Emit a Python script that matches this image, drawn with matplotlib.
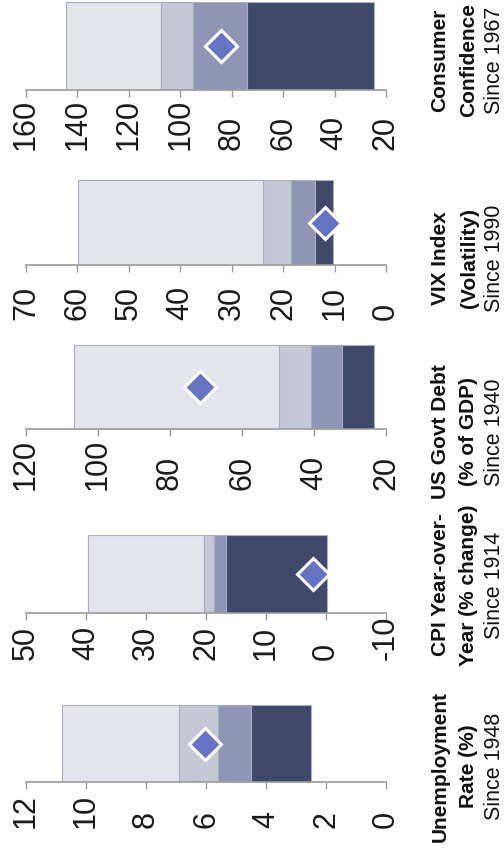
import matplotlib
matplotlib.use("Agg")
import matplotlib.pyplot as plt

plt.rcParams["font.family"] = ["Liberation Sans", "DejaVu Sans"]

# data, original left-to-right order
titles = [("Unemployment", "Rate (%)"),
          ("CPI Year-over-", "Year (% change)"),
          ("US Govt Debt", "(% of GDP)"),
          ("VIX Index", "(Volatility)"),
          ("Consumer", "Confidence")]
since = ["Since 1948", "Since 1914", "Since 1940", "Since 1990", "Since 1967"]

range_max = [10.8, 39.6, 106.6, 59.9, 144.4]
upper = [6.9, 20.4, 49.8, 23.9, 107.4]
middle = [5.6, 18.6, 40.9, 18.5, 94.9]
lower = [4.5, 16.6, 32.3, 13.8, 74.2]
range_min = [2.5, -0.2, 23.3, 10.3, 24.7]
current = [6.05, 2.2, 71.8, 11.8, 84.3]

axis_top = [12, 50, 120, 70, 160]
axis_bottom = [0, -10, 20, 0, 20]
axis_step = [2, 10, 20, 10, 20]

# layout (pixels in the 504x849 picture)
W, H = 504, 849
bar_top_px = [705, 535, 345, 180, 2]
axis_px = [782, 613, 429, 265, 90]
label_gap_px = [46, 47, 61, 55, 60]
title_center_px = [766, 585, 432, 258, 60]

seg_colors = ["#e3e4ec", "#c6c8d5", "#9095b6", "#3f4869"]

fig = plt.figure(figsize=(W / 100, H / 100), dpi=100)

for i in range(5):
    ax = fig.add_axes([26 / W, 1 - axis_px[i] / H, 360 / W,
                       (axis_px[i] - bar_top_px[i]) / H])
    edges = [range_max[i], upper[i], middle[i], lower[i], range_min[i]]
    for k in range(4):
        ax.barh(0.5, edges[k] - edges[k + 1], left=edges[k + 1], height=1.0,
                color=seg_colors[k], edgecolor="#a9adc2", linewidth=0.8)
    ax.plot(current[i], 0.5, marker="D", ms=16, mfc="#6673c2", mec="white",
            mew=2.2, zorder=5, clip_on=False)

    ax.set_xlim(axis_top[i], axis_bottom[i])
    ax.set_ylim(0, 1)
    ticks = list(range(axis_bottom[i], axis_top[i] + 1, axis_step[i]))
    ax.set_xticks(ticks)
    ax.set_xticklabels([str(t) for t in ticks])
    ax.set_yticks([])
    for s in ["top", "left", "right"]:
        ax.spines[s].set_visible(False)
    ax.spines["bottom"].set_color("#9a9a9a")
    ax.spines["bottom"].set_linewidth(1.2)
    pad = (label_gap_px[i] - 7) * 0.72
    ax.tick_params(axis="x", direction="out", length=5, width=1.0,
                   color="#9a9a9a", labelsize=22, labelcolor="#1a1a1a",
                   labelrotation=90, pad=pad)
    plt.setp(ax.get_xticklabels(), va="bottom")

    yc = 1 - title_center_px[i] / H
    fig.text(440 / W, yc, titles[i][0], rotation=90, ha="center", va="center",
             fontsize=15, fontweight="bold", color="#111111")
    fig.text(469 / W, yc, titles[i][1], rotation=90, ha="center", va="center",
             fontsize=15, fontweight="bold", color="#111111")
    fig.text(494 / W, yc, since[i], rotation=90, ha="center", va="center",
             fontsize=15.5, color="#111111")

fig.savefig("out.png", dpi=100)
